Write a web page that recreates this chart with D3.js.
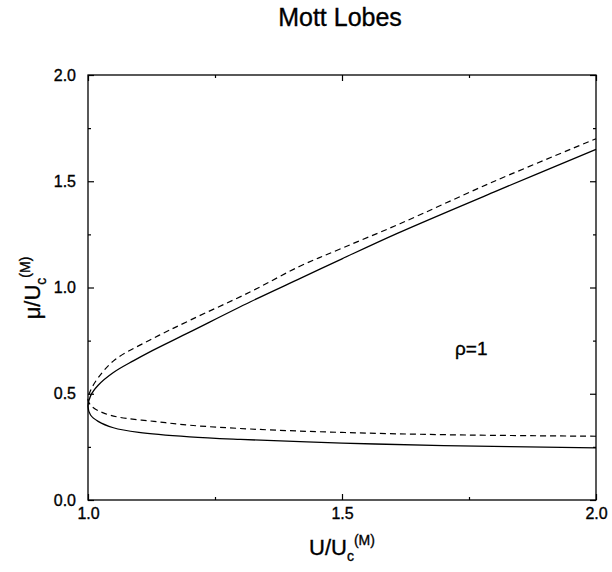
<!DOCTYPE html>
<html>
<head>
<meta charset="utf-8">
<title>Mott Lobes</title>
<script src="https://cdnjs.cloudflare.com/ajax/libs/d3/7.8.5/d3.min.js"></script>
<style>
  body { margin: 0; background: #fff; }
  text { font-family: "Liberation Sans", Arial, sans-serif; fill: #000; stroke: #000; stroke-width: 0.35px; }
</style>
</head>
<body>
<div id="chart"></div>
<script>
// solid curve: U/Uc values and mu/Uc values, lower branch -> tip -> upper branch
const solidU  = [2.0, 1.7, 1.5, 1.3, 1.2, 1.1, 1.05, 1.02, 1.005, 1.0, 1.005, 1.02, 1.05, 1.09, 1.12, 1.2, 1.32, 1.42, 1.5, 1.61, 1.8, 2.0];
const solidMu = [0.245, 0.256, 0.268, 0.285, 0.297, 0.318, 0.34, 0.37, 0.40, 0.44, 0.49, 0.54, 0.60, 0.656, 0.695, 0.79, 0.933, 1.045, 1.135, 1.256, 1.45, 1.65];

// dashed curve
const dashU  = [2.0, 1.71, 1.5, 1.32, 1.2, 1.13, 1.06, 1.03, 1.01, 1.0, 1.005, 1.02, 1.053, 1.122, 1.2, 1.32, 1.417, 1.5, 1.614, 1.8, 2.0];
const dashMu = [0.30, 0.307, 0.318, 0.334, 0.352, 0.37, 0.39, 0.41, 0.435, 0.47, 0.515, 0.575, 0.66, 0.753, 0.845, 0.98, 1.10, 1.185, 1.30, 1.50, 1.70];

const xMajor = [1.0, 1.5, 2.0];
const xMinor = [1.25, 1.75];
const yMajor = [0.0, 0.5, 1.0, 1.5, 2.0];
const yMinor = [0.25, 0.75, 1.25, 1.75];

const W = 612, H = 572;
const svg = d3.select('#chart').append('svg').attr('width', W).attr('height', H);

const x = d3.scaleLinear().domain([1, 2]).range([88, 596]);
const y = d3.scaleLinear().domain([0, 2]).range([500, 75]);

// frame
svg.append('rect')
  .attr('x', x(1)).attr('y', y(2))
  .attr('width', x(2) - x(1)).attr('height', y(0) - y(2))
  .attr('fill', 'none').attr('stroke', '#000').attr('stroke-width', 1.3);

function styleAxis(g) {
  g.select('.domain').remove();
  g.selectAll('line').attr('stroke', '#000').attr('stroke-width', 1.2);
  g.selectAll('text').style('font-size', '16px').attr('fill', '#000')
    .style('font-family', '"Liberation Sans", Arial, sans-serif');
}

// left / right (inward ticks)
svg.append('g').attr('transform', `translate(${x(1)},0)`)
  .call(d3.axisLeft(y).tickValues(yMajor).tickSize(-6).tickPadding(12).tickFormat(d3.format('.1f')))
  .call(styleAxis);
svg.append('g').attr('transform', `translate(${x(1)},0)`)
  .call(d3.axisLeft(y).tickValues(yMinor).tickSize(-3).tickFormat(''))
  .call(styleAxis);
svg.append('g').attr('transform', `translate(${x(2)},0)`)
  .call(d3.axisRight(y).tickValues(yMajor).tickSize(-6).tickFormat(''))
  .call(styleAxis);
svg.append('g').attr('transform', `translate(${x(2)},0)`)
  .call(d3.axisRight(y).tickValues(yMinor).tickSize(-3).tickFormat(''))
  .call(styleAxis);

// bottom / top
svg.append('g').attr('transform', `translate(0,${y(0)})`)
  .call(d3.axisBottom(x).tickValues(xMajor).tickSize(-6).tickPadding(8).tickFormat(d3.format('.1f')))
  .call(styleAxis);
svg.append('g').attr('transform', `translate(0,${y(0)})`)
  .call(d3.axisBottom(x).tickValues(xMinor).tickSize(-3).tickFormat(''))
  .call(styleAxis);
svg.append('g').attr('transform', `translate(0,${y(2)})`)
  .call(d3.axisTop(x).tickValues(xMajor).tickSize(-6).tickFormat(''))
  .call(styleAxis);
svg.append('g').attr('transform', `translate(0,${y(2)})`)
  .call(d3.axisTop(x).tickValues(xMinor).tickSize(-3).tickFormat(''))
  .call(styleAxis);

// curves
const line = d3.line()
  .x(d => x(d[0])).y(d => y(d[1]))
  .curve(d3.curveCatmullRom.alpha(0.5));

svg.append('path')
  .datum(solidU.map((u, i) => [u, solidMu[i]]))
  .attr('d', line)
  .attr('fill', 'none').attr('stroke', '#000').attr('stroke-width', 1.3);

svg.append('path')
  .datum(dashU.map((u, i) => [u, dashMu[i]]))
  .attr('d', line)
  .attr('fill', 'none').attr('stroke', '#000').attr('stroke-width', 1.2)
  .attr('stroke-dasharray', '6,4');

// title
svg.append('text').attr('x', 340).attr('y', 26)
  .attr('text-anchor', 'middle').style('font-size', '25px')
  .text('Mott Lobes');

// annotation
svg.append('text').attr('x', 455).attr('y', 355)
  .style('font-size', '19px').text('ρ=1');

// x label
const xl = svg.append('text').attr('x', 342).attr('y', 555)
  .attr('text-anchor', 'middle').style('font-size', '22px');
xl.append('tspan').text('U/U');
xl.append('tspan').attr('dy', 6).style('font-size', '14px').text('c');
xl.append('tspan').attr('dy', -16).style('font-size', '14px').text('(M)');

// y label
const yl = svg.append('text')
  .attr('transform', 'translate(40,288) rotate(-90)')
  .attr('text-anchor', 'middle').style('font-size', '22px');
yl.append('tspan').text('μ/U');
yl.append('tspan').attr('dy', 6).style('font-size', '14px').text('c');
yl.append('tspan').attr('dy', -16).style('font-size', '14px').text('(M)');
</script>
</body>
</html>
